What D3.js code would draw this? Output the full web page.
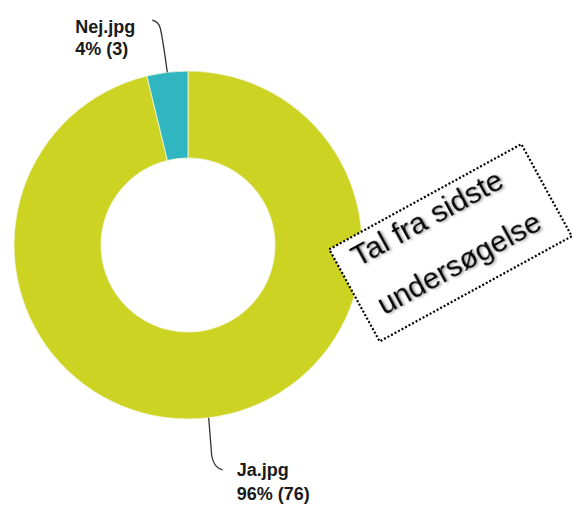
<!DOCTYPE html>
<html>
<head>
<meta charset="utf-8">
<script src="https://cdn.jsdelivr.net/npm/d3@7"></script>
<style>
  html, body { margin: 0; padding: 0; background: #fff; }
  svg { display: block; }
</style>
</head>
<body>
<svg id="chart" width="573" height="505"></svg>
<script>
// ---- data ----
const categories = ["Ja.jpg", "Nej.jpg"];
const counts = [76, 3];
const percentLabels = ["96%", "4%"];
const colors = ["#cdd322", "#30b6c0"];
const noteLines = ["Tal fra sidste", "undersøgelse"];

// ---- layout ----
const svg = d3.select("#chart");
const cx = 188, cy = 245, rOuter = 174, rInner = 87;

const data = categories.map((c, i) => ({ name: c, value: counts[i], pct: percentLabels[i], color: colors[i] }));

const pie = d3.pie().value(d => d.value).sort(null);
const arcs = pie(data);
const arc = d3.arc().innerRadius(rInner).outerRadius(rOuter);

const g = svg.append("g").attr("transform", `translate(${cx},${cy})`);
g.selectAll("path.slice")
  .data(arcs)
  .enter().append("path")
  .attr("class", "slice")
  .attr("d", arc)
  .attr("fill", d => d.data.color)
  .attr("stroke", "#f4f8e0")
  .attr("stroke-width", 0.8);

// ---- leader lines and labels ----
const font = "Arial, 'Liberation Sans', sans-serif";
arcs.forEach((a, i) => {
  const mid = (a.startAngle + a.endAngle) / 2;
  const x0 = cx + rOuter * Math.sin(mid);
  const y0 = cy - rOuter * Math.cos(mid);
  const up = Math.cos(mid) > 0;
  let path, tx, ty1, ty2;
  if (up) {
    path = `M${x0},${y0} C${x0 - 3},${y0 - 22} ${x0 - 5},${y0 - 36} ${x0 - 7},${y0 - 44} Q${x0 - 9},${y0 - 51} ${x0 - 15},${y0 - 52}`;
    tx = x0 - 92; ty1 = y0 - 39; ty2 = y0 - 17;
  } else {
    path = `M${x0},${y0} L${x0 + 3},${y0 + 38} Q${x0 + 5},${y0 + 50} ${x0 + 14},${y0 + 52}`;
    tx = x0 + 28; ty1 = y0 + 58; ty2 = y0 + 82;
  }
  svg.append("path")
    .attr("d", path)
    .attr("fill", "none")
    .attr("stroke", "#333")
    .attr("stroke-width", 1.3);
  const t = svg.append("text")
    .attr("font-family", font)
    .attr("font-weight", "bold")
    .attr("font-size", 18)
    .attr("fill", "#1a1a1a");
  t.append("tspan").attr("x", tx).attr("y", ty1).text(a.data.name);
  t.append("tspan").attr("x", tx).attr("y", ty2).text(`${a.data.pct} (${a.data.value})`);
});

// ---- rotated note box ----
const defs = svg.append("defs");
const f = defs.append("filter").attr("id", "shadow").attr("x", "-10%").attr("y", "-10%").attr("width", "130%").attr("height", "140%");
f.append("feDropShadow").attr("dx", 1.5).attr("dy", 1.5).attr("stdDeviation", 1).attr("flood-color", "#000").attr("flood-opacity", 0.35);

const bw = 219, bh = 105;
const note = svg.append("g").attr("transform", "translate(450.5,242.8) rotate(-28.7)");
note.append("rect")
  .attr("x", -bw / 2).attr("y", -bh / 2)
  .attr("width", bw).attr("height", bh)
  .attr("fill", "#fff")
  .attr("stroke", "#000")
  .attr("stroke-width", 2.2)
  .attr("stroke-dasharray", "2,2");
const nt = note.append("text")
  .attr("font-family", font)
  .attr("font-size", 30)
  .attr("fill", "#000")
  .attr("filter", "url(#shadow)");
noteLines.forEach((l, i) => {
  nt.append("tspan").attr("x", -93).attr("y", -23 + i * 55).text(l);
});
</script>
</body>
</html>
